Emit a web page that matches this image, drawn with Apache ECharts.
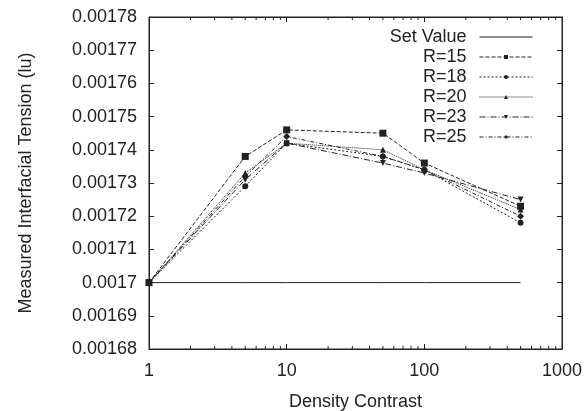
<!DOCTYPE html>
<html>
<head>
<meta charset="utf-8">
<script src="https://cdn.jsdelivr.net/npm/echarts@6/dist/echarts.min.js"></script>
<style>
  html, body { margin: 0; padding: 0; background: #fff; }
  #chart { width: 588px; height: 411px; }
</style>
</head>
<body>
<div id="chart"></div>
<script>
/* data */
var densities = [1, 5, 10, 50, 100, 500];
var setValue = [0.0017, 0.0017, 0.0017, 0.0017, 0.0017, 0.0017];
var r15 = [0.0017, 0.001738, 0.001746, 0.001745, 0.001736, 0.001723];
var r18 = [0.0017, 0.001729, 0.001742, 0.001738, 0.001734, 0.001718];
var r20 = [0.0017, 0.001733, 0.001742, 0.001740, 0.001734, 0.001722];
var r23 = [0.0017, 0.001731, 0.001742, 0.001736, 0.001733, 0.001725];
var r25 = [0.0017, 0.001732, 0.001744, 0.001738, 0.001734, 0.001720];
var minorTicks = [2, 3, 4, 5, 6, 7, 8, 9, 20, 30, 40, 50, 60, 70, 80, 90, 200, 300, 400, 500, 600, 700, 800, 900];

var font = 'Liberation Sans, Arial, sans-serif';
var ink = '#222';
var fs = 18;

var myChart = echarts.init(document.getElementById('chart'));

/* pair x with y */
function pairs(ys) {
    return densities.map(function (d, i) { return [d, ys[i]]; });
}

function lineSeries(name, ys, symbol, size, dash, rotate) {
    return {
        name: name,
        type: 'line',
        data: pairs(ys),
        symbol: symbol,
        symbolSize: size,
        symbolRotate: rotate || 0,
        itemStyle: {color: ink},
        lineStyle: {color: ink, width: 1, type: dash},
        animation: false
    };
}

var yFmt = function (v) {
    return String(parseFloat(v.toFixed(5)));
};

var option = {
    backgroundColor: '#fff',
    textStyle: {fontFamily: font},
    grid: {left: 149, right: 26, top: 17, bottom: 62, show: true, borderColor: ink, borderWidth: 1, outerBoundsMode: 'none'},
    legend: {
        orient: 'vertical',
        right: 50,
        top: 22,
        align: 'right',
        itemWidth: 53,
        itemHeight: 5,
        itemGap: 0,
        lineStyle: {width: 1},
        textStyle: {fontFamily: font, fontSize: fs, color: ink, lineHeight: 20, padding: [0, 8, 0, 0]},
        data: [
            {name: 'Set Value', itemStyle: {opacity: 0}},
            'R=15', 'R=18', 'R=20', 'R=23', 'R=25'
        ]
    },
    xAxis: [{
        type: 'log',
        logBase: 10,
        min: 1,
        max: 1000,
        name: 'Density Contrast',
        nameLocation: 'middle',
        nameGap: 44,
        nameTextStyle: {fontSize: fs, color: ink, fontFamily: font},
        axisLine: {lineStyle: {color: ink}},
        axisTick: {inside: true, length: 5, lineStyle: {color: ink}},
        axisLabel: {fontSize: fs, color: ink, margin: 13, fontFamily: font, formatter: function (v) { return String(v); }},
        splitLine: {show: false}
    }, {
        type: 'log',
        logBase: 10,
        min: 1,
        max: 1000,
        position: 'top',
        axisLine: {lineStyle: {color: ink}},
        axisTick: {inside: true, length: 5, lineStyle: {color: ink}},
        axisLabel: {show: false},
        splitLine: {show: false}
    }],
    yAxis: [{
        type: 'value',
        min: 0.00168,
        max: 0.00178,
        interval: 0.00001,
        name: 'Measured Interfacial Tension (lu)',
        nameLocation: 'middle',
        nameGap: 114,
        nameTextStyle: {fontSize: fs, color: ink, fontFamily: font},
        axisLine: {show: true, lineStyle: {color: ink}},
        axisTick: {show: true, inside: true, length: 5, lineStyle: {color: ink}},
        axisLabel: {fontSize: fs, color: ink, margin: 12, formatter: yFmt, fontFamily: font},
        splitLine: {show: false}
    }, {
        type: 'value',
        min: 0.00168,
        max: 0.00178,
        interval: 0.00001,
        position: 'right',
        axisLine: {show: true, lineStyle: {color: ink}},
        axisTick: {show: true, inside: true, length: 5, lineStyle: {color: ink}},
        axisLabel: {show: false},
        splitLine: {show: false}
    }],
    series: [
        {
            name: 'Set Value',
            type: 'line',
            data: pairs(setValue),
            symbol: 'none',
            itemStyle: {color: ink},
            lineStyle: {color: ink, width: 1, type: 'solid'},
            animation: false
        },
        lineSeries('R=15', r15, 'rect', 7, [4, 2]),
        lineSeries('R=18', r18, 'circle', 6, [2, 2]),
        lineSeries('R=20', r20, 'triangle', 6, [1, 1]),
        lineSeries('R=23', r23, 'triangle', 6, [6, 2, 1, 2], 180),
        lineSeries('R=25', r25, 'diamond', 7, [4, 2, 1, 2]),
        {
            /* log minor ticks, top and bottom */
            type: 'custom',
            silent: true,
            animation: false,
            clip: false,
            data: minorTicks.map(function (t) { return [t]; }),
            encode: {x: 0},
            renderItem: function (params, api) {
                var x = api.value(0);
                var bot = api.coord([x, 0.00168]);
                var top = api.coord([x, 0.00178]);
                var style = {stroke: ink, lineWidth: 1};
                return {
                    type: 'group',
                    children: [
                        {type: 'line', shape: {x1: bot[0], y1: bot[1], x2: bot[0], y2: bot[1] - 3}, style: style},
                        {type: 'line', shape: {x1: top[0], y1: top[1], x2: top[0], y2: top[1] + 3}, style: style}
                    ]
                };
            }
        }
    ]
};

myChart.setOption(option);
</script>
</body>
</html>
